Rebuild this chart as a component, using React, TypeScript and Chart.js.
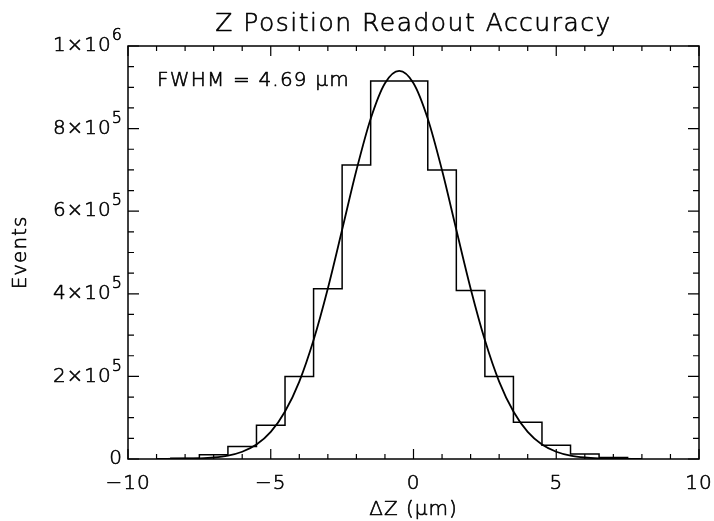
import React, { useEffect, useRef } from 'react';
import { Chart, registerables } from 'chart.js';
Chart.register(...registerables);

const titleText = 'Z Position Readout Accuracy';
const xAxisLabel = 'ΔZ (μm)';
const yAxisLabel = 'Events';
const annotationText = 'FWHM = 4.69 μm';

// histogram bins (centers in μm) and counts
const binCenters = [-9, -8, -7, -6, -5, -4, -3, -2, -1, 0, 1, 2, 3, 4, 5, 6, 7, 8];
const binCounts = [0, 2000, 10000, 30000, 82000, 200000, 412000, 712000, 915000, 915000, 700000, 408000, 200000, 89000, 33000, 12000, 3500, 0];

// fitted curve
const fitX = [-9, -8, -7.5, -7, -6.5, -6, -5.5, -5, -4.5, -4, -3.5, -3, -2.5, -2, -1.5, -1, -0.5, 0, 0.5, 1, 1.5, 2, 2.5, 3, 3.5, 4, 4.5, 5, 5.5, 6, 6.5, 7, 8];
const fitY = [0, 600, 1500, 3600, 8200, 17600, 35000, 65500, 115000, 187500, 288000, 413000, 555000, 699000, 824000, 910000, 940000, 910000, 824000, 699000, 555000, 413000, 288000, 187500, 115000, 65500, 35000, 17600, 8200, 3600, 1500, 600, 0];

// axes
const xMin = -10;
const xMax = 10;
const xMajorTicks = [-10, -5, 0, 5, 10];
const xTickLabels = ['−10', '−5', '0', '5', '10'];
const xMinorStep = 1;
const yMin = 0;
const yMax = 1000000;
const yMajorTicks = [0, 200000, 400000, 600000, 800000, 1000000];
const yTickMantissa = ['0', '2×10', '4×10', '6×10', '8×10', '1×10'];
const yTickExponent = ['', '5', '5', '5', '5', '6'];
const yMinorStep = 50000;

const FONT = '"DejaVu Sans", sans-serif';
const W = '200';

function txt(ctx: any, s: string, x: number, y: number) {
  ctx.fillText(s, x, y);
  ctx.strokeText(s, x, y);
}

const decorPlugin = {
  id: 'decor',
  afterDatasetsDraw(chart: any) {
    const { ctx, chartArea: a, scales } = chart;
    const xs = scales.x;
    const ys = scales.y;
    ctx.save();
    ctx.strokeStyle = '#000';
    ctx.fillStyle = '#000';
    ctx.lineWidth = 1.5;
    ctx.strokeRect(a.left, a.top, a.right - a.left, a.bottom - a.top);

    // x ticks (bottom and top, inward)
    ctx.lineWidth = 1.2;
    const nx = Math.round((xMax - xMin) / xMinorStep);
    for (let i = 0; i <= nx; i++) {
      const v = xMin + i * xMinorStep;
      const px = xs.getPixelForValue(v);
      const len = xMajorTicks.includes(v) ? 10 : 5;
      ctx.beginPath();
      ctx.moveTo(px, a.bottom);
      ctx.lineTo(px, a.bottom - len);
      ctx.moveTo(px, a.top);
      ctx.lineTo(px, a.top + len);
      ctx.stroke();
    }
    const ny = Math.round((yMax - yMin) / yMinorStep);
    for (let i = 0; i <= ny; i++) {
      const v = yMin + i * yMinorStep;
      const py = ys.getPixelForValue(v);
      const len = yMajorTicks.includes(v) ? 11 : 6;
      ctx.beginPath();
      ctx.moveTo(a.left, py);
      ctx.lineTo(a.left + len, py);
      ctx.moveTo(a.right, py);
      ctx.lineTo(a.right - len, py);
      ctx.stroke();
    }

    ctx.lineWidth = 0.6;
    ctx.lineJoin = 'round';
    (ctx as any).letterSpacing = '1px';
    // x tick labels
    ctx.font = `${W} 20px ${FONT}`;
    ctx.textAlign = 'center';
    ctx.textBaseline = 'middle';
    xMajorTicks.forEach((v, i) => {
      txt(ctx, xTickLabels[i], xs.getPixelForValue(v), a.bottom + 25);
    });

    // y tick labels with superscripts
    yMajorTicks.forEach((v, i) => {
      const py = ys.getPixelForValue(v);
      ctx.font = `${W} 20px ${FONT}`;
      const wb = ctx.measureText(yTickMantissa[i]).width;
      ctx.font = `${W} 16px ${FONT}`;
      const ws = yTickExponent[i] ? ctx.measureText(yTickExponent[i]).width : 0;
      const right = a.left - 5;
      const x0 = right - wb - ws;
      ctx.textAlign = 'left';
      ctx.textBaseline = 'middle';
      ctx.font = `${W} 20px ${FONT}`;
      txt(ctx, yTickMantissa[i], x0, py);
      if (yTickExponent[i]) {
        ctx.font = `${W} 16px ${FONT}`;
        txt(ctx, yTickExponent[i], x0 + wb, py - 10);
      }
    });

    // axis titles
    ctx.font = `${W} 20px ${FONT}`;
    ctx.textAlign = 'center';
    ctx.textBaseline = 'middle';
    txt(ctx, xAxisLabel, (a.left + a.right) / 2, a.bottom + 51);
    ctx.save();
    ctx.translate(21, (a.top + a.bottom) / 2);
    ctx.rotate(-Math.PI / 2);
    txt(ctx, yAxisLabel, 0, 0);
    ctx.restore();

    // annotation
    (ctx as any).letterSpacing = '1.2px';
    ctx.textAlign = 'left';
    ctx.font = `${W} 20px ${FONT}`;
    txt(ctx, annotationText, 157, ys.getPixelForValue(915000));

    // title
    (ctx as any).letterSpacing = '1.5px';
    ctx.font = `${W} 25px ${FONT}`;
    ctx.textAlign = 'center';
    txt(ctx, titleText, (a.left + a.right) / 2, 24);
    ctx.restore();
  },
};

export default function App() {
  const ref = useRef<HTMLCanvasElement | null>(null);
  useEffect(() => {
    document.body.style.margin = '0';
    const canvas = ref.current!;
    const chart = new Chart(canvas, {
      type: 'line',
      data: {
        datasets: [
          {
            data: binCenters.map((c, i) => ({ x: c, y: binCounts[i] })),
            stepped: 'middle',
            borderColor: '#000',
            borderWidth: 1.5,
            pointRadius: 0,
            fill: false,
          },
          {
            data: fitX.map((x, i) => ({ x, y: fitY[i] })),
            cubicInterpolationMode: 'monotone',
            borderColor: '#000',
            borderWidth: 1.8,
            pointRadius: 0,
            fill: false,
          },
        ],
      } as any,
      options: {
        responsive: false,
        maintainAspectRatio: false,
        animation: false,
        layout: { padding: { left: 128, top: 46, right: 15, bottom: 62 } },
        plugins: { legend: { display: false }, tooltip: { enabled: false }, title: { display: false } },
        scales: {
          x: { type: 'linear', min: xMin, max: xMax, display: false },
          y: { type: 'linear', min: yMin, max: yMax, display: false },
        },
      },
      plugins: [decorPlugin],
    });
    return () => chart.destroy();
  }, []);
  return (
    <div style={{ width: 714, height: 521, background: '#fff' }}>
      <canvas ref={ref} width={714} height={521} style={{ display: 'block' }} />
    </div>
  );
}
